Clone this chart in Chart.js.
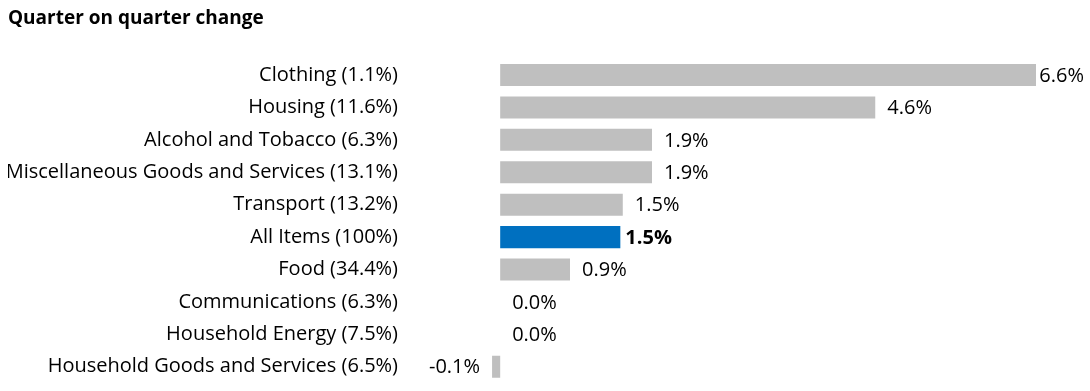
<!DOCTYPE html>
<html>
<head>
<meta charset="utf-8">
<script src="https://cdn.jsdelivr.net/npm/chart.js@4.4.1/dist/chart.umd.min.js"></script>
<style>
  html, body { margin: 0; padding: 0; background: #fff; overflow: hidden; }
  #c { display: block; width: 1090px; height: 391px; }
</style>
</head>
<body>
<canvas id="c" width="1090" height="391"></canvas>
<script>
const categories = [
  "Clothing (1.1%)",
  "Housing (11.6%)",
  "Alcohol and Tobacco (6.3%)",
  "Miscellaneous Goods and Services (13.1%)",
  "Transport (13.2%)",
  "All Items (100%)",
  "Food (34.4%)",
  "Communications (6.3%)",
  "Household Energy (7.5%)",
  "Household Goods and Services (6.5%)"
];
const changeValues = [6.6, 4.62, 1.87, 1.87, 1.51, 1.48, 0.86, 0.0, 0.0, -0.1];
const highlightCategory = "All Items (100%)";
const titleText = "Quarter on quarter change";

const FONT = "'Open Sans', 'Noto Sans', sans-serif";
const GREY = "#BFBFBF";
const BLUE = "#0070C0";

const barColors = categories.map(c => c === highlightCategory ? BLUE : GREY);

const valueLabelPlugin = {
  id: 'valueLabels',
  afterDatasetsDraw(chart) {
    const ctx = chart.ctx;
    const meta = chart.getDatasetMeta(0);
    const xs = chart.scales.x;
    ctx.save();
    ctx.textBaseline = 'middle';
    ctx.textAlign = 'left';
    meta.data.forEach((bar, i) => {
      const v = changeValues[i];
      const hl = categories[i] === highlightCategory;
      ctx.font = (hl ? 'bold ' : '') + '20px ' + FONT;
      ctx.fillStyle = '#000';
      const txt = v.toFixed(1) + '%';
      const w = ctx.measureText(txt).width;
      const gap = hl ? 5 : 12;
      let x;
      if (v < 0) {
        x = xs.getPixelForValue(v) - gap - w;
      } else {
        x = xs.getPixelForValue(v) + gap;
        if (x + w > chart.width - 6) x = Math.max(xs.getPixelForValue(v) + 1, chart.width - 6 - w);
      }
      ctx.fillText(txt, x, bar.y + 1);
    });
    ctx.restore();
  }
};

new Chart(document.getElementById('c'), {
  type: 'bar',
  data: {
    labels: categories,
    datasets: [{
      data: changeValues,
      backgroundColor: barColors,
      borderWidth: 0,
      barPercentage: 0.68,
      categoryPercentage: 1.0
    }]
  },
  options: {
    indexAxis: 'y',
    responsive: false,
    maintainAspectRatio: false,
    animation: false,
    layout: { padding: { left: 8, right: 54, top: 0, bottom: 8 } },
    plugins: {
      legend: { display: false },
      tooltip: { enabled: false },
      title: {
        display: true,
        text: titleText,
        align: 'start',
        color: '#000',
        font: { family: FONT, size: 19, weight: 'bold', lineHeight: 1.2 },
        padding: { top: 7, bottom: 29 }
      }
    },
    scales: {
      x: {
        min: -1,
        max: 6.6,
        display: false,
        grid: { display: false }
      },
      y: {
        grid: { display: false, drawTicks: false },
        border: { display: false },
        ticks: {
          color: '#000',
          font: { family: FONT, size: 20 },
          padding: 21,
          autoSkip: false
        },
        afterFit(scale) {
          scale.width = 411;
          scale.paddingTop = 0;
          scale.paddingBottom = 0;
        }
      }
    }
  },
  plugins: [valueLabelPlugin]
});
</script>
</body>
</html>
